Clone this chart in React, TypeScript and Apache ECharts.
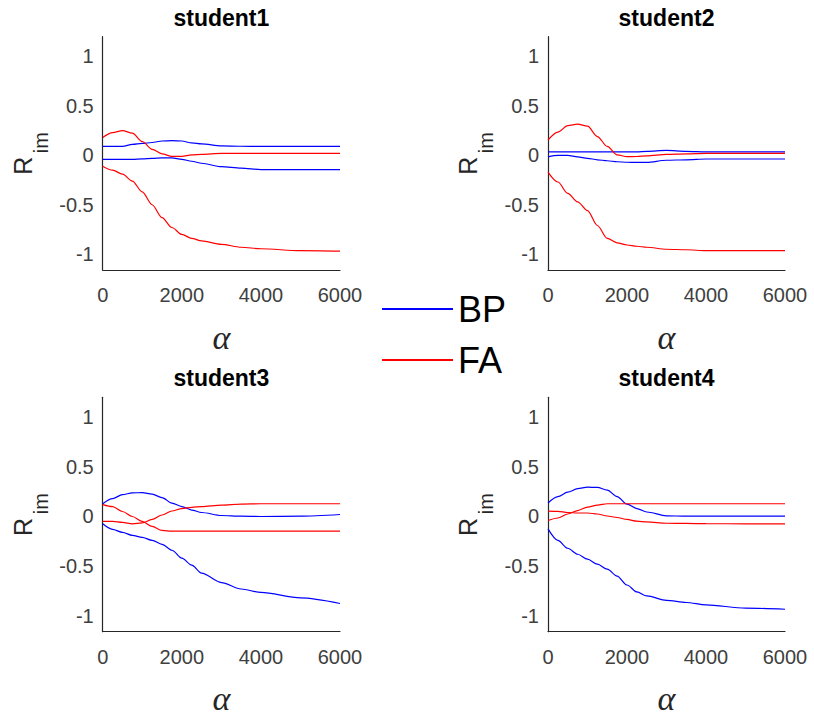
import React, { useEffect, useRef } from "react";
import * as echarts from "echarts";

const ALPHA = [0, 250, 500, 750, 1000, 1250, 1500, 1750, 2000, 2250, 2500, 3000, 3500, 4000, 5000, 6000];
const TITLES = ["student1", "student2", "student3", "student4"];
const X_TICKS = [0, 2000, 4000, 6000];
const Y_TICKS = [-1, -0.5, 0, 0.5, 1];

// student1
const S1_BP_A = [0.09, 0.09, 0.09, 0.11, 0.12, 0.13, 0.145, 0.148, 0.145, 0.125, 0.115, 0.095, 0.092, 0.09, 0.09, 0.09];
const S1_BP_B = [-0.04, -0.04, -0.04, -0.04, -0.035, -0.03, -0.025, -0.025, -0.04, -0.06, -0.08, -0.115, -0.13, -0.145, -0.145, -0.145];
const S1_FA_A = [0.18, 0.23, 0.25, 0.225, 0.14, 0.06, 0.015, -0.01, -0.01, 0.005, 0.01, 0.02, 0.02, 0.02, 0.02, 0.02];
const S1_FA_B = [-0.11, -0.15, -0.19, -0.26, -0.37, -0.5, -0.63, -0.73, -0.8, -0.84, -0.865, -0.9, -0.93, -0.945, -0.965, -0.97];
// student2
const S2_BP_A = [0.035, 0.035, 0.035, 0.035, 0.035, 0.035, 0.035, 0.035, 0.035, 0.035, 0.04, 0.05, 0.04, 0.035, 0.035, 0.035];
const S2_BP_B = [-0.015, 0.0, 0.0, -0.015, -0.03, -0.045, -0.055, -0.065, -0.07, -0.072, -0.072, -0.05, -0.045, -0.037, -0.037, -0.037];
const S2_FA_A = [0.155, 0.235, 0.3, 0.315, 0.295, 0.19, 0.09, 0.005, -0.013, -0.012, -0.005, 0.01, 0.015, 0.02, 0.02, 0.02];
const S2_FA_B = [-0.17, -0.27, -0.385, -0.47, -0.56, -0.71, -0.84, -0.885, -0.907, -0.92, -0.93, -0.95, -0.955, -0.965, -0.965, -0.965];
// student3
const S3_BP_A = [0.128, 0.18, 0.22, 0.238, 0.24, 0.225, 0.19, 0.135, 0.1, 0.065, 0.04, 0.01, 0.003, 0.0, 0.003, 0.02];
const S3_BP_B = [-0.074, -0.13, -0.16, -0.19, -0.21, -0.24, -0.28, -0.34, -0.42, -0.49, -0.57, -0.665, -0.73, -0.765, -0.82, -0.876];
const S3_FA_A = [0.12, 0.1, 0.05, 0.0, -0.05, -0.1, -0.14, -0.148, -0.148, -0.148, -0.148, -0.148, -0.148, -0.148, -0.148, -0.148];
const S3_FA_B = [-0.05, -0.05, -0.06, -0.074, -0.065, -0.03, 0.015, 0.055, 0.08, 0.092, 0.1, 0.115, 0.125, 0.128, 0.128, 0.128];
// student4
const S4_BP_A = [0.135, 0.2, 0.245, 0.28, 0.295, 0.293, 0.265, 0.2, 0.125, 0.08, 0.045, 0.007, 0.003, 0.003, 0.003, 0.003];
const S4_BP_B = [-0.125, -0.24, -0.32, -0.38, -0.43, -0.48, -0.53, -0.6, -0.69, -0.76, -0.8, -0.845, -0.866, -0.89, -0.923, -0.934];
const S4_FA_A = [0.054, 0.052, 0.04, 0.035, 0.035, 0.025, 0.005, -0.01, -0.03, -0.047, -0.055, -0.068, -0.07, -0.072, -0.074, -0.074];
const S4_FA_B = [-0.04, -0.015, 0.025, 0.06, 0.095, 0.115, 0.128, 0.128, 0.128, 0.128, 0.128, 0.128, 0.128, 0.128, 0.128, 0.128];

const BP_SETS = [[S1_BP_A, S1_BP_B], [S2_BP_A, S2_BP_B], [S3_BP_A, S3_BP_B], [S4_BP_A, S4_BP_B]];
const FA_SETS = [[S1_FA_A, S1_FA_B], [S2_FA_A, S2_FA_B], [S3_FA_A, S3_FA_B], [S4_FA_A, S4_FA_B]];

const BLUE = "#0000ff";
const RED = "#ff0000";
const AXIS_COLOR = "#262626";
const LABEL_COLOR = "#404040";
const SANS = "'Liberation Sans', Arial, Helvetica, sans-serif";

const GRIDS = [
  { left: 102.7, top: 36.7, width: 237.3, height: 233.3 },
  { left: 548, top: 36.7, width: 237, height: 233.3 },
  { left: 102.7, top: 397.3, width: 237.3, height: 234.4 },
  { left: 548, top: 397.3, width: 237, height: 234.4 },
];

export default function App() {
  const ref = useRef<HTMLDivElement>(null);
  useEffect(() => {
    if (!ref.current) return;
    const chart = echarts.init(ref.current, undefined, { renderer: "svg" });

    const series: any[] = [];
    for (let i = 0; i < 4; i++) {
      const add = (name: string, color: string, vals: number[]) =>
        series.push({
          type: "line",
          name,
          xAxisIndex: i,
          yAxisIndex: i,
          data: ALPHA.map((a, k) => [a, vals[k]]),
          symbol: "none",
          showSymbol: false,
          smooth: 0.3,
          smoothMonotone: "x",
          lineStyle: { color, width: 1.2 },
          itemStyle: { color },
          emphasis: { disabled: true },
        });
      BP_SETS[i].forEach((v) => add("BP", BLUE, v));
      FA_SETS[i].forEach((v) => add("FA", RED, v));
    }

    const graphics: any[] = [];
    GRIDS.forEach((g, i) => {
      const cx = g.left + g.width / 2;
      graphics.push({
        type: "text",
        x: cx,
        y: g.top - 19.2,
        style: {
          text: TITLES[i],
          font: `bold 23px ${SANS}`,
          fill: "#000",
          align: "center",
          verticalAlign: "middle",
        },
      });
      graphics.push({
        type: "text",
        x: cx,
        y: g.top + g.height + 67,
        style: {
          text: "α",
          font: `italic 34px 'Liberation Serif', 'DejaVu Serif', serif`,
          fill: AXIS_COLOR,
          align: "center",
          verticalAlign: "middle",
        },
      });
      graphics.push({
        type: "group",
        x: g.left - 71,
        y: g.top + g.height / 2 - 1,
        rotation: Math.PI / 2,
        children: [
          {
            type: "text",
            x: -22.5,
            y: -9.2,
            style: {
              text: "R",
              font: `25px ${SANS}`,
              fill: AXIS_COLOR,
              align: "left",
              verticalAlign: "middle",
            },
          },
          {
            type: "text",
            x: -0.8,
            y: 9,
            style: {
              text: "im",
              font: `20px ${SANS}`,
              fill: AXIS_COLOR,
              align: "left",
              verticalAlign: "middle",
            },
          },
        ],
      });
    });

    chart.setOption({
      animation: false,
      backgroundColor: "#ffffff",
      grid: GRIDS.map((g) => ({ ...g })),
      xAxis: GRIDS.map((_, i) => ({
        type: "value",
        gridIndex: i,
        min: 0,
        max: 6000,
        interval: 2000,
        axisLine: { show: true, onZero: false, lineStyle: { color: AXIS_COLOR, width: 1.2 } },
        axisTick: { show: false },
        splitLine: { show: false },
        axisLabel: {
          customValues: X_TICKS,
          formatter: (v: number) => String(v),
          fontSize: 20,
          fontFamily: SANS,
          color: LABEL_COLOR,
          margin: 15,
        },
      })),
      yAxis: GRIDS.map((_, i) => ({
        type: "value",
        gridIndex: i,
        min: -1.16,
        max: 1.2,
        axisLine: { show: true, onZero: false, lineStyle: { color: AXIS_COLOR, width: 1.2 } },
        axisTick: { show: false },
        splitLine: { show: false },
        axisLabel: {
          customValues: Y_TICKS,
          formatter: (v: number) => String(v),
          fontSize: 20,
          fontFamily: SANS,
          color: LABEL_COLOR,
          margin: 9,
        },
      })),
      legend: {
        data: ["BP", "FA"],
        orient: "vertical",
        left: 382,
        top: 289,
        padding: 0,
        itemWidth: 71,
        itemHeight: 2,
        itemGap: 11,
        icon: "rect",
        selectedMode: false,
        textStyle: { fontSize: 36, fontFamily: SANS, color: "#000", lineHeight: 40 },
      },
      graphic: graphics,
      series,
    });

    return () => chart.dispose();
  }, []);

  return (
    <div
      ref={ref}
      style={{ position: "absolute", left: 0, top: 0, width: 814, height: 717, background: "#fff" }}
    />
  );
}
